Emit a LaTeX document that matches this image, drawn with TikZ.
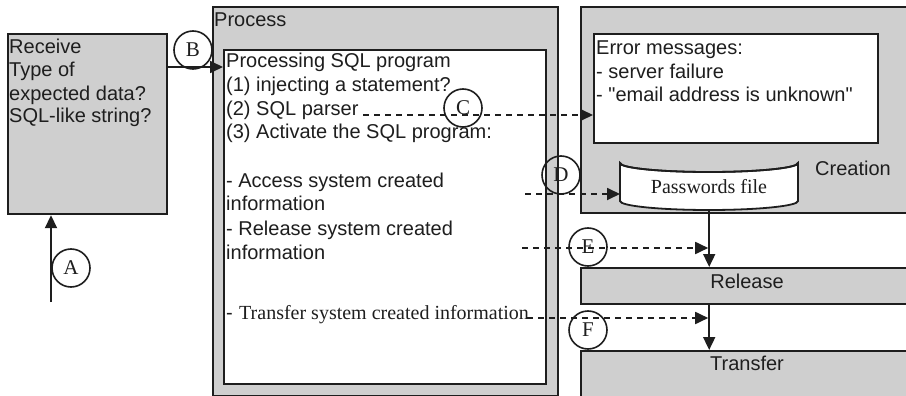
\documentclass[tikz,border=0pt]{standalone}
\usepackage{fontspec}
\setmainfont{Liberation Sans}
\newfontfamily\tms{Liberation Serif}
\usetikzlibrary{arrows.meta}
\definecolor{boxgray}{HTML}{CFCFCF}
\definecolor{ink}{HTML}{1E1E1E}
\begin{document}
\begin{tikzpicture}[x=1pt,y=-1pt,
  box/.style={draw=ink, line width=2.2pt, fill=boxgray, inner sep=0pt, anchor=north west},
  wbox/.style={box, fill=white},
  txt/.style={inner sep=0pt, anchor=base west, text=ink, font=\fontsize{20}{24}\selectfont},
  ttxt/.style={txt, font=\tms\fontsize{20}{24}\selectfont},
  ctxt/.style={inner sep=0pt, text=ink, font=\fontsize{20}{24}\selectfont},
  lbl/.style={circle, draw=ink, line width=1.6pt, minimum size=38pt, inner sep=0pt, font=\tms\fontsize{21}{24}\selectfont, text=ink},
  arr/.style={draw=ink, line width=1.8pt, -{Triangle[length=13pt,width=12pt]}},
  darr/.style={arr, dash pattern=on 6pt off 5pt}]
\clip (0,0) rectangle (906,396);
% boxes
\node[box, minimum width=159, minimum height=180] (recv) at (7,33) {};
\node[box, minimum width=345, minimum height=389] (proc) at (212,6) {};
\node[wbox, minimum width=322, minimum height=334] (inner) at (223,49) {};
\node[box, minimum width=340, minimum height=206] (crea) at (580,6) {};
\node[wbox, minimum width=284, minimum height=109] (err) at (593,33) {};
\node[box, minimum width=340, minimum height=36] (rel) at (580,267) {};
\node[box, minimum width=340, minimum height=60] (trn) at (580,350) {};
% cylinder
\draw[draw=ink, line width=1.8pt, fill=white] (620,163) -- (620,201)
  arc[start angle=180, end angle=0, x radius=89, y radius=9] -- (798,163)
  arc[start angle=0, end angle=180, x radius=89, y radius=9] -- cycle;
\draw[draw=ink, line width=1.8pt] (620,163) arc[start angle=180, end angle=0, x radius=89, y radius=9];
\node[inner sep=0pt, minimum width=178, minimum height=56, anchor=north west] (pw) at (620,154) {};
\node[ttxt, anchor=center] (pwt) at (709,187) {Passwords file};
% texts
\node[txt] (t1) at (9,54) {Receive};
\node[txt] (t2) at (9,77) {Type of};
\node[txt] (t3) at (9,100) {expected data?};
\node[txt] (t4) at (9,123) {SQL-like string?};
\node[txt] (p0) at (214,27) {Process};
\node[txt] (p1) at (226,68) {Processing SQL program};
\node[txt] (p2) at (226,92) {(1) injecting a statement?};
\node[txt] (p3) at (226,115.5) {(2) SQL parser};
\node[txt] (p4) at (226,139) {(3) Activate the SQL program:};
\node[txt] (p5) at (226,187) {- Access system created};
\node[txt] (p6) at (226,210.5) {information};
\node[txt] (p7) at (226,235) {- Release system created};
\node[txt] (p8) at (226,259) {information};
\node[txt] (p9a) at (226,319) {-};
\node[ttxt] (p9) at (239,319) {Transfer system created information};
\node[txt] (e1) at (596,55) {Error messages:};
\node[txt] (e2) at (596,78.5) {- server failure};
\node[txt] (e3) at (596,102) {- \textquotedbl email address is unknown\textquotedbl};
\node[ctxt] (lc) at (853,168) {Creation};
\node[ctxt] (lr) at (747,281) {Release};
\node[ctxt] (lt) at (747,363) {Transfer};
% connectors
\coordinate (a0) at (51,302);
\coordinate (b0) at (0,67);
\coordinate (c0) at (363,115);
\coordinate (d0) at (525,194);
\coordinate (e0) at (522,248);
\coordinate (f0) at (527,318);
\draw[arr] (a0) -- (a0 |- recv.south);
\draw[arr] (recv.east |- b0) -- (inner.west |- b0);
\draw[darr] (c0) -- (err.west |- c0);
\draw[darr] (d0) -- (pw.west |- d0);
\draw[darr, shorten >=1pt] (e0) -- (pw.south |- e0);
\draw[darr, shorten >=1pt] (f0) -- (pw.south |- f0);
\draw[arr] (pw.south) -- (pw.south |- rel.north);
\draw[arr] (pw.south |- rel.south) -- (pw.south |- trn.north);
% circled labels
\node[lbl] (cA) at (71,268) {A};
\node[lbl] (cB) at (193,50) {B};
\node[lbl] (cC) at (463,108) {C};
\node[lbl] (cD) at (561,175) {D};
\node[lbl] (cE) at (588,247) {E};
\node[lbl] (cF) at (588,330) {F};
\end{tikzpicture}
\end{document}
